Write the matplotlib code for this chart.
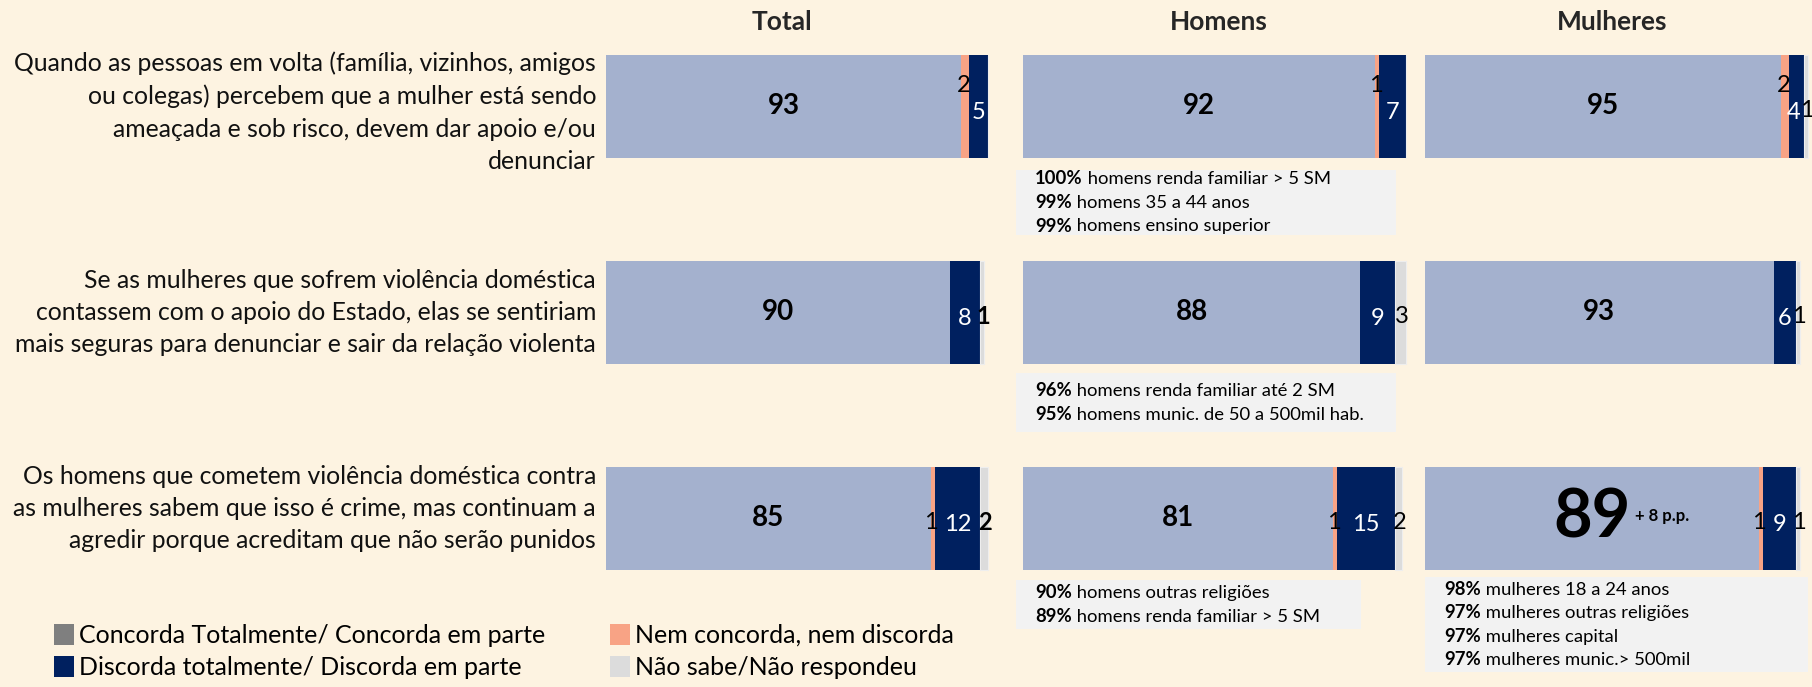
import matplotlib
matplotlib.use("Agg")
import matplotlib.pyplot as plt
from matplotlib.patches import Patch, Rectangle
from matplotlib import transforms

plt.rcParams['font.family'] = ['Lato', 'DejaVu Sans']

# ---- data ----
panels = ['Total', 'Homens', 'Mulheres']
categories = ['Concorda Totalmente/ Concorda em parte',
              'Nem concorda, nem discorda',
              'Discorda totalmente/ Discorda em parte',
              'Não sabe/Não respondeu']
questions = [
    'Quando as pessoas em volta (família, vizinhos, amigos\n'
    'ou colegas) percebem que a mulher está sendo\n'
    'ameaçada e sob risco, devem dar apoio e/ou\n'
    'denunciar',
    'Se as mulheres que sofrem violência doméstica\n'
    'contassem com o apoio do Estado, elas se sentiriam\n'
    'mais seguras para denunciar e sair da relação violenta',
    'Os homens que cometem violência doméstica contra\n'
    'as mulheres sabem que isso é crime, mas continuam a\n'
    'agredir porque acreditam que não serão punidos',
]
# per panel, one value per question
concorda = {'Total': [93, 90, 85], 'Homens': [92, 88, 81], 'Mulheres': [95, 93, 89]}
nem = {'Total': [2, 0, 1], 'Homens': [1, 0, 1], 'Mulheres': [2, 0, 1]}
discorda = {'Total': [5, 8, 12], 'Homens': [7, 9, 15], 'Mulheres': [4, 6, 9]}
nao_sabe = {'Total': [0, 1, 2], 'Homens': [0, 3, 2], 'Mulheres': [1, 1, 1]}

highlights = {
    ('Homens', 0): [('100%', 'homens renda familiar > 5 SM'),
                    ('99%', 'homens 35 a 44 anos'),
                    ('99%', 'homens ensino superior')],
    ('Homens', 1): [('96%', 'homens renda familiar até 2 SM'),
                    ('95%', 'homens munic. de 50 a 500mil hab.')],
    ('Homens', 2): [('90%', 'homens outras religiões'),
                    ('89%', 'homens renda familiar > 5 SM')],
    ('Mulheres', 2): [('98%', 'mulheres 18 a 24 anos'),
                      ('97%', 'mulheres outras religiões'),
                      ('97%', 'mulheres capital'),
                      ('97%', 'mulheres munic.> 500mil')],
}
big_cell = ('Mulheres', 2)
big_note = '+ 8 p.p.'

# ---- style / layout (pixels of the 1812x687 canvas) ----
W, H = 1812, 687
BG = '#fdf3e1'
colors = ['#a4b1ce', '#f8a385', '#00205f', '#dcdcdc']
legend_colors = ['#7f7f7f', '#f8a385', '#00205f', '#dcdcdc']
axes_x = {'Total': (606, 988), 'Homens': (1023, 1406), 'Mulheres': (1425, 1800)}
axes_top, axes_bottom = 3.5, 621.5
title_x = {'Total': 0.46, 'Homens': 0.51, 'Mulheres': 0.50}
question_dy = [-6, 0, 10]
boxes = {('Homens', 0): (1016, 170, 1396, 235),
         ('Homens', 1): (1016, 373, 1396, 432),
         ('Homens', 2): (1016, 580, 1361, 629),
         ('Mulheres', 2): (1425, 577, 1808, 672)}
line_pitch = 23.5

fig = plt.figure(figsize=(W / 100, H / 100), dpi=100, facecolor=BG)


def fx(px):
    return px / W


def fy(py):
    return 1 - py / H


axes = {}
for p in panels:
    l, r = axes_x[p]
    ax = fig.add_axes([fx(l), fy(axes_bottom), (r - l) / W, (axes_bottom - axes_top) / H])
    ax.set_facecolor('none')
    ax.set_xlim(0, 100)
    ax.set_ylim(2.5, -0.5)
    ax.set_axis_off()
    axes[p] = ax

    rows = range(len(questions))
    series = [concorda[p], nem[p], discorda[p], nao_sabe[p]]
    left = [0] * len(questions)
    for k, vals in enumerate(series):
        ax.barh(rows, vals, left=left, height=0.5, color=colors[k],
                edgecolor='#eeeeee' if k == 3 else 'none', linewidth=0.8,
                clip_on=False)
        for i in rows:
            v = vals[i]
            if v == 0:
                continue
            xc = left[i] + v / 2
            if k == 0:
                if (p, i) == big_cell:
                    t = ax.text(xc, i, str(v), ha='center', va='center',
                                fontsize=48, fontweight='bold', color='black')
                    ax.annotate(big_note, xy=(1, 0.5), xycoords=t,
                                xytext=(3, 2), textcoords='offset points',
                                ha='left', va='center', fontsize=12,
                                fontweight='bold', color='black')
                else:
                    ax.text(xc, i, str(v), ha='center', va='center',
                            fontsize=20, fontweight='bold', color='black')
            elif k == 1:
                dy = -0.1 if i == 0 else 0.02
                ax.text(xc - 0.4, i + dy, str(v), ha='center', va='center',
                        fontsize=17, color='black')
            elif k == 2:
                shift = -0.8 if nao_sabe[p][i] and v < 5 else 0
                ax.text(xc + shift, i + 0.03, str(v), ha='center', va='center',
                        fontsize=17, color='white')
            else:
                ax.text(xc + 0.3, i + 0.02, str(v), ha='center', va='center',
                        fontsize=17, color='black',
                        fontweight='bold' if p == 'Total' else 'normal')
        left = [a + b for a, b in zip(left, vals)]

    tr = transforms.blended_transform_factory(ax.transAxes, fig.transFigure)
    ax.text(title_x[p], fy(22), p, transform=tr, ha='center', va='center',
            fontsize=19, fontweight='bold', color='#262626')

# question labels
for i, q in enumerate(questions):
    axes['Total'].annotate(q, xy=(0, i), xycoords=('axes fraction', 'data'),
                           xytext=(-10, question_dy[i]), textcoords='offset pixels',
                           ha='right', va='center', fontsize=17.8,
                           linespacing=1.5, color='#111111')

# highlight boxes
for key, lines in highlights.items():
    l, t, r, b = boxes[key]
    fig.add_artist(Rectangle((fx(l), fy(b)), (r - l) / W, (b - t) / H,
                             transform=fig.transFigure, facecolor='#f2f2f2',
                             edgecolor='none', zorder=0))
    yc = (t + b) / 2
    n = len(lines)
    for j, (pct, rest) in enumerate(lines):
        yy = yc + (j - (n - 1) / 2) * line_pitch
        bt = fig.text(fx(l + 19), fy(yy), pct, ha='left', va='center',
                      fontsize=13.3, fontweight='bold', color='black')
        fig.add_artist(plt.Annotation(' ' + rest, xy=(1, 0), xycoords=bt,
                                      ha='left', va='bottom', fontsize=13.3,
                                      color='black'))

# legend
handles = [Patch(facecolor=c, edgecolor='none', label=lab)
           for c, lab in zip(legend_colors, categories)]
order = [0, 2, 1, 3]
fig.legend([handles[i] for i in order], [categories[i] for i in order],
           ncol=2, loc='upper left', bbox_to_anchor=(fx(54), fy(624)),
           frameon=False, fontsize=18, handlelength=0.8, handleheight=0.9,
           handletextpad=0.2, columnspacing=2.6, labelspacing=0.35,
           borderpad=0, borderaxespad=0)

fig.savefig('out.png', dpi=100, facecolor=BG)
